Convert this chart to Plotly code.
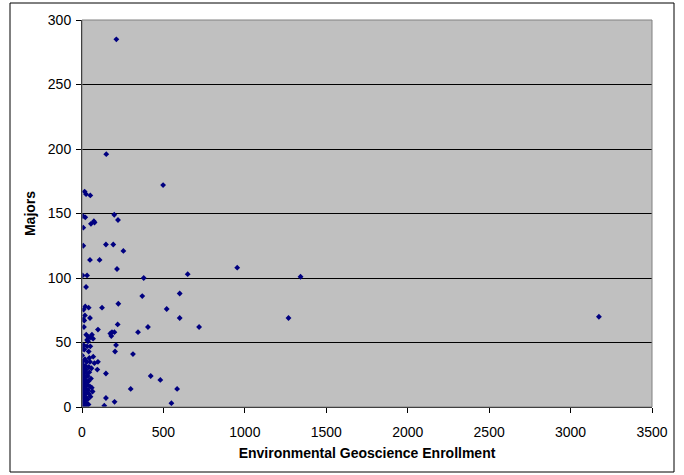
import plotly.graph_objects as go

enrollment = [211,149,498,16,25,51,6,20,198,221,73,77,55,8,8,147,192,254,49,108,215,953,4,31,379,649,1342,1268,3174,
              25,370,600,223,123,20,41,10,520,18,8,49,14,600,219,12,405,719,98,344,174,184,199,180,26,41,61,31,68,51,37,
              209,10,31,51,14,41,203,313,69,45,10,18,98,49,76,94,147,422,481,299,584,147,200,549,137,
              2,5,12,20,8,15,25,30,3,10,18,35,45,6,14,22,28,40,55,2,9,17,33,48,4,12,24,38,60,7,16,28,44,3,11,21,35,52,
              6,15,26,40,9,20,65,30,42,58,1,5]
majors = [285,196,172,167,165,164,148,147,149,145,144,143,142,139,125,126,126,121,114,114,107,108,102,102,100,103,101,69,70,
          93,86,88,80,77,78,77,75.5,76,71,68,69,67,69,64,62,62,62,60,58,57,58,58,55,56,54,56,52,53,54,51,
          48,48,47,47,44.5,43,43,41,39,38,36,37,35,35,34,29,26,24,21,14,14,7,4,3,1,
          33,30,31,32,28,27,29,26,25,24,23,24,27,21,20,21,19,20,22,18,17,16,17,16,14,13,14,13,15,11,10,11,10,8,7,8,6,8,
          4,5,3,2,1,0.5,12,35,31,30,40,45]

x_ticks = [0,500,1000,1500,2000,2500,3000,3500]
y_ticks = [0,50,100,150,200,250,300]

fig = go.Figure(go.Scatter(
    x=enrollment, y=majors, mode="markers",
    marker=dict(symbol="diamond", size=4.5, color="#000080"),
    showlegend=False))

L, R, T, B = 82, 32, 20, 68
W, H = 684, 475
pw, ph = W - L - R, H - T - B

fig.update_layout(
    width=W, height=H,
    margin=dict(l=L, r=R, t=T, b=B, pad=0),
    paper_bgcolor="white", plot_bgcolor="#C0C0C0",
    font=dict(family="Liberation Sans, Arial", size=14, color="black"),
    xaxis=dict(range=[0, 3500], tickvals=x_ticks, showgrid=False, zeroline=False,
               showline=True, linecolor="black", linewidth=1, mirror=False,
               ticks="outside", ticklen=5, tickcolor="black", ticklabelstandoff=7,
               title=dict(text="<b>Environmental Geoscience Enrollment</b>", font=dict(size=14), standoff=9)),
    yaxis=dict(range=[0, 300], tickvals=y_ticks, showgrid=True, gridcolor="black", gridwidth=1,
               zeroline=False, showline=True, linecolor="black", linewidth=1,
               ticks="outside", ticklen=5, tickcolor="black", ticklabelstandoff=2,
               title=dict(text="<b>Majors</b>", font=dict(size=14), standoff=8)),
    shapes=[
        dict(type="rect", xref="paper", yref="paper", x0=0, x1=1, y0=0, y1=1,
             line=dict(color="#808080", width=1), fillcolor="rgba(0,0,0,0)", layer="above"),
        dict(type="rect", xref="paper", yref="paper",
             x0=(10 - L) / pw, x1=(674 - L) / pw,
             y0=((H - B) - 472) / ph, y1=((H - B) - 3) / ph,
             line=dict(color="black", width=1), fillcolor="rgba(0,0,0,0)"),
    ],
)

fig.write_html("out.html", config={"displayModeBar": False},
               post_script="document.body.style.margin='0';document.body.style.overflow='hidden';")
